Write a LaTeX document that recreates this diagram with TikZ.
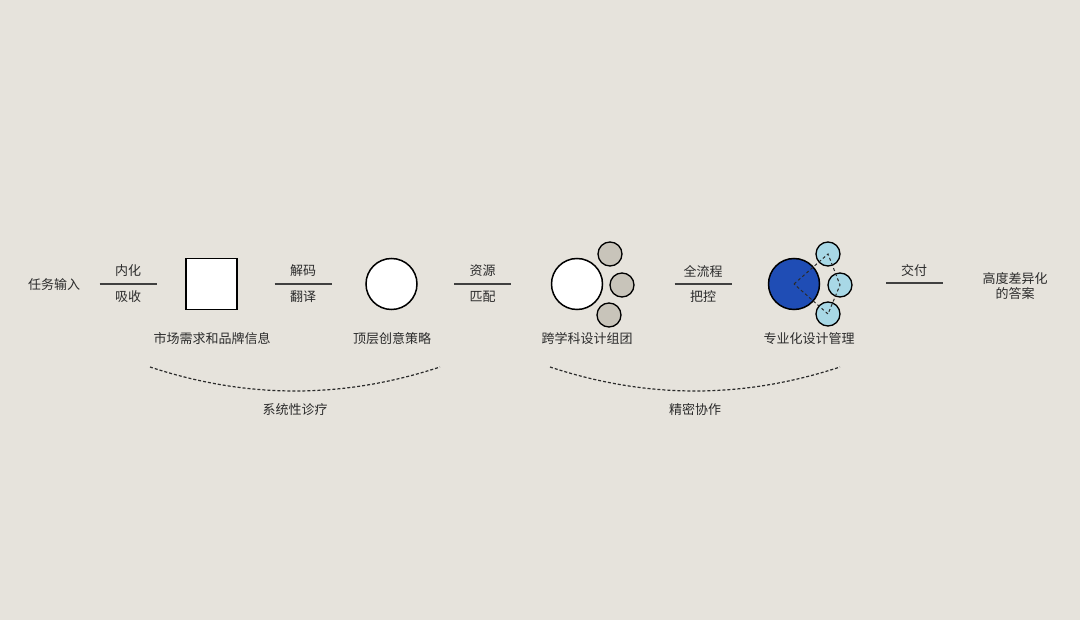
\documentclass[tikz,border=0pt]{standalone}
\usepackage{fontspec}
\setmainfont{Noto Sans CJK SC}
\definecolor{bgcol}{HTML}{E6E3DC}
\definecolor{inkcol}{HTML}{2B2B2B}
\definecolor{stonecol}{HTML}{C8C4BA}
\definecolor{deepblue}{HTML}{1F4DB5}
\definecolor{paleblue}{HTML}{A8D8E6}
\tikzset{
    txt/.style={text=inkcol, font=\fontsize{13}{14.5}\selectfont, inner sep=0pt, align=center},
    sepline/.style={draw=inkcol!90, line width=1.2pt},
    boxstep/.style={draw=black, fill=white, line width=1.5pt, minimum size=51pt, inner sep=0pt},
    roundstep/.style={circle, draw=black, fill=white, line width=1.5pt, minimum size=51pt, inner sep=0pt},
    smallstep/.style={circle, draw=black, line width=1.3pt, minimum size=24pt, inner sep=0pt},
    linkdash/.style={draw=inkcol, dash pattern=on 3pt off 2.5pt, line width=1pt},
    arcdash/.style={draw=inkcol, dash pattern=on 3pt off 2pt, line width=1.2pt}
}
\begin{document}
\begin{tikzpicture}[x=1pt,y=-1pt]
    \useasboundingbox[fill=bgcol] (0,0) rectangle (1080,620);
    % steps
    \node[txt] (input) at (54,285) {任务输入};
    \node[boxstep] (market) at (211.5,284) {};
    \node[txt] (marketlbl) at (212,339) {市场需求和品牌信息};
    \node[roundstep] (idea) at (391.5,284) {};
    \node[txt] (idealbl) at (392,339) {顶层创意策略};
    \node[roundstep] (team) at (577,284) {};
    \foreach \n/\px/\py in {ta/610/254, tb/622/285, tc/609/315}
        \node[smallstep, fill=stonecol] (\n) at (\px,\py) {};
    \node[txt] (teamlbl) at (587,339) {跨学科设计组团};
    \node[roundstep, fill=deepblue] (manage) at (794,284) {};
    \foreach \n/\px/\py in {ma/828/254, mb/840/285, mc/828/314}
        \node[smallstep, fill=paleblue] (\n) at (\px,\py) {};
    \draw[linkdash] (manage.center) -- (ma.center) -- (mb.center) -- (mc.center) -- cycle;
    \node[txt] (managelbl) at (809,339) {专业化设计管理};
    \node[txt] (answer) at (1015,286) {高度差异化\\的答案};
    % separators
    \foreach \n/\cx/\up/\dn in {sa/128/内化/吸收, sb/303/解码/翻译, sc/482.5/资源/匹配, sd/703/全流程/把控} {
        \coordinate (\n l) at (\cx-28.5,284);
        \coordinate (\n r) at (\cx+28.5,284);
        \draw[sepline] (\n l) -- (\n r);
        \node[txt] (\n up) at (\cx,271) {\up};
        \node[txt] (\n dn) at (\cx,297) {\dn};
    }
    \coordinate (sel) at (886,283);
    \coordinate (ser) at (943,283);
    \draw[sepline] (sel) -- (ser);
    \node[txt] (seup) at (914,271) {交付};
    % phases
    \coordinate (pal) at (150,367);
    \coordinate (par) at (440,367);
    \draw[arcdash] (pal) .. controls (247,399) and (343,399) .. (par);
    \node[txt] (palbl) at (295,410) {系统性诊疗};
    \coordinate (pbl) at (550,367);
    \coordinate (pbr) at (840,367);
    \draw[arcdash] (pbl) .. controls (647,399) and (743,399) .. (pbr);
    \node[txt] (pblbl) at (695,410) {精密协作};
\end{tikzpicture}
\end{document}
